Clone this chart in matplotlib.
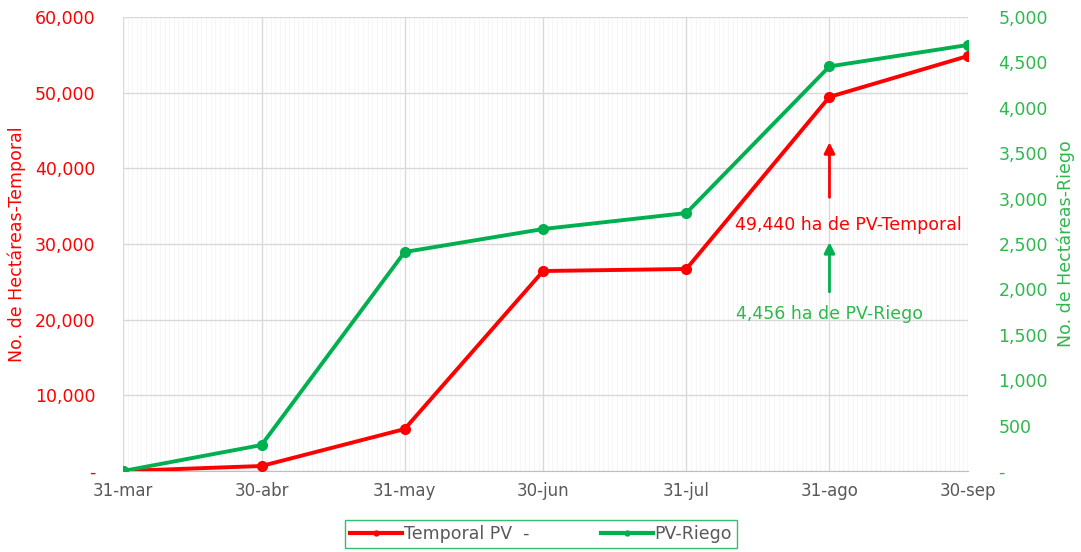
import datetime as dt

import matplotlib
matplotlib.use("Agg")
import matplotlib.pyplot as plt
import matplotlib.dates as mdates
from matplotlib.lines import Line2D
from matplotlib.ticker import FuncFormatter, MultipleLocator

# data
fechas = ["2020-03-31", "2020-04-30", "2020-05-31", "2020-06-30",
          "2020-07-31", "2020-08-31", "2020-09-30"]
etiquetas = ["31-mar", "30-abr", "31-may", "30-jun", "31-jul", "31-ago", "30-sep"]
temporal = [0, 660, 5550, 26430, 26700, 49440, 54850]
riego = [0, 286, 2412, 2665, 2841, 4456, 4692]

C_RED = "#FF0000"
C_GREEN = "#00B050"
C_GREEN_TXT = "#2DB84C"
C_GRAY = "#595959"

plt.rcParams["font.family"] = ["DejaVu Sans"]

x = [dt.datetime.strptime(f, "%Y-%m-%d") for f in fechas]

fig = plt.figure(figsize=(10.81, 5.52), dpi=100)
ax = fig.add_axes([123 / 1081, 1 - 471 / 552, 845 / 1081, 454 / 552])
ax2 = ax.twinx()

ax.plot(x, temporal, color=C_RED, lw=2.8, marker="o", ms=7, zorder=3)
ax2.plot(x, riego, color=C_GREEN, lw=2.8, marker="o", ms=7, zorder=3)

ax.set_xlim(x[0], x[-1])
ax.set_ylim(0, 60000)
ax2.set_ylim(0, 5000)
ax.yaxis.set_major_locator(MultipleLocator(10000))
ax2.yaxis.set_major_locator(MultipleLocator(500))

fmt = FuncFormatter(lambda v, p: "-" if v == 0 else f"{v:,.0f}")
ax.yaxis.set_major_formatter(fmt)
ax2.yaxis.set_major_formatter(fmt)

ax.set_xticks(x)
ax.set_xticklabels(etiquetas)
ax.xaxis.set_minor_locator(mdates.DayLocator())

ax.grid(axis="y", which="major", color="#D9D9D9", lw=1)
ax.grid(axis="x", which="major", color="#D9D9D9", lw=1)
ax.grid(axis="x", which="minor", color="#F5F5F5", lw=0.6)
ax.set_axisbelow(True)

for a in (ax, ax2):
    for s in a.spines.values():
        s.set_visible(False)
ax.spines["bottom"].set_visible(True)
ax.spines["bottom"].set_color("#BFBFBF")

ax.tick_params(axis="x", which="both", length=0, labelsize=12,
               labelcolor=C_GRAY, pad=8)
ax.tick_params(axis="y", length=0, labelsize=12.5, labelcolor=C_RED, pad=20)
ax2.tick_params(axis="y", length=0, labelsize=12.5, labelcolor=C_GREEN_TXT, pad=22)

ax.set_ylabel("No. de Hectáreas-Temporal", color=C_RED, fontsize=12.5, labelpad=6)
ax2.set_ylabel("No. de Hectáreas-Riego", color=C_GREEN_TXT, fontsize=12.5, labelpad=6)

# annotations near 31-ago
xa = x[5]
ax.annotate("", xy=(xa, 43800), xytext=(xa, 35800),
            arrowprops=dict(arrowstyle="-|>", color=C_RED, lw=2, mutation_scale=16))
ax.text(xa + dt.timedelta(days=4), 32500, "49,440 ha de PV-Temporal",
        color=C_RED, fontsize=12.5, ha="center", va="center")
ax.annotate("", xy=(xa, 30600), xytext=(xa, 23300),
            arrowprops=dict(arrowstyle="-|>", color=C_GREEN, lw=2, mutation_scale=16))
ax.text(xa, 20800, "4,456 ha de PV-Riego",
        color=C_GREEN_TXT, fontsize=12.5, ha="center", va="center")

handles = [
    Line2D([], [], color=C_RED, lw=3, marker="o", ms=3.5),
    Line2D([], [], color=C_GREEN, lw=3, marker="o", ms=3.5),
]
leg = fig.legend(handles, ["Temporal PV  -", "PV-Riego"], loc="center",
                 bbox_to_anchor=(0.5005, 0.0326), ncol=2, fontsize=12.5,
                 frameon=True, fancybox=False, columnspacing=4.1,
                 handlelength=3, borderpad=0.3, handletextpad=0.1)
leg.get_frame().set_edgecolor(C_GREEN)
leg.get_frame().set_linewidth(1)
for t in leg.get_texts():
    t.set_color(C_GRAY)

fig.savefig("out.png", dpi=100)
